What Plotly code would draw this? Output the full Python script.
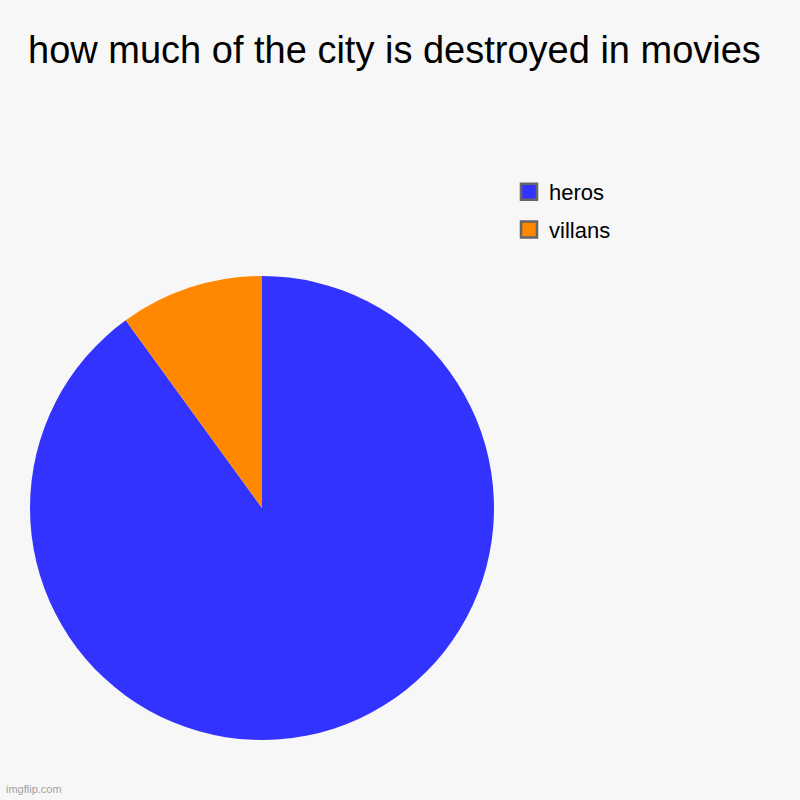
import plotly.graph_objects as go

# values
labels = ["heros", "villans"]
values = [90, 10]
colors = ["#3333ff", "#ff8800"]

fig = go.Figure()

fig.add_trace(go.Pie(
    labels=labels,
    values=values,
    marker=dict(colors=colors, line=dict(width=0)),
    sort=False,
    direction="clockwise",
    rotation=0,
    textinfo="none",
    hoverinfo="label+value",
    showlegend=False,
    domain=dict(x=[30 / 800, 494 / 800], y=[60 / 800, 524 / 800]),
))

# legend entries drawn as square markers with a grey frame
for name, col in zip(labels, colors):
    fig.add_trace(go.Scatter(
        x=[None], y=[None], mode="markers", name=name, legendgroup=name,
        marker=dict(symbol="square", size=16, color=col,
                    line=dict(color="#666666", width=2.5)),
    ))

fig.update_layout(
    width=800,
    height=800,
    margin=dict(l=0, r=0, t=0, b=0),
    paper_bgcolor="#f7f7f7",
    plot_bgcolor="#f7f7f7",
    font=dict(family="Liberation Sans, Arial, sans-serif", color="#000000"),
    title=dict(text="how much of the city is destroyed in movies",
               x=28 / 800, xanchor="left", y=1 - 50 / 800, yanchor="middle",
               font=dict(size=38)),
    xaxis=dict(visible=False),
    yaxis=dict(visible=False),
    legend=dict(x=509 / 800, xanchor="left", y=1 - 171 / 800, yanchor="top",
                font=dict(size=22), bgcolor="rgba(0,0,0,0)",
                traceorder="grouped", tracegroupgap=6),
    annotations=[dict(text="imgflip.com", x=4 / 800, y=3 / 800, xref="paper", yref="paper",
                      xanchor="left", yanchor="bottom", showarrow=False,
                      font=dict(size=11, color="#a0a0a0"))],
)

fig.write_html("out.html", config={"displayModeBar": False},
               post_script="document.body.style.margin='0';")
